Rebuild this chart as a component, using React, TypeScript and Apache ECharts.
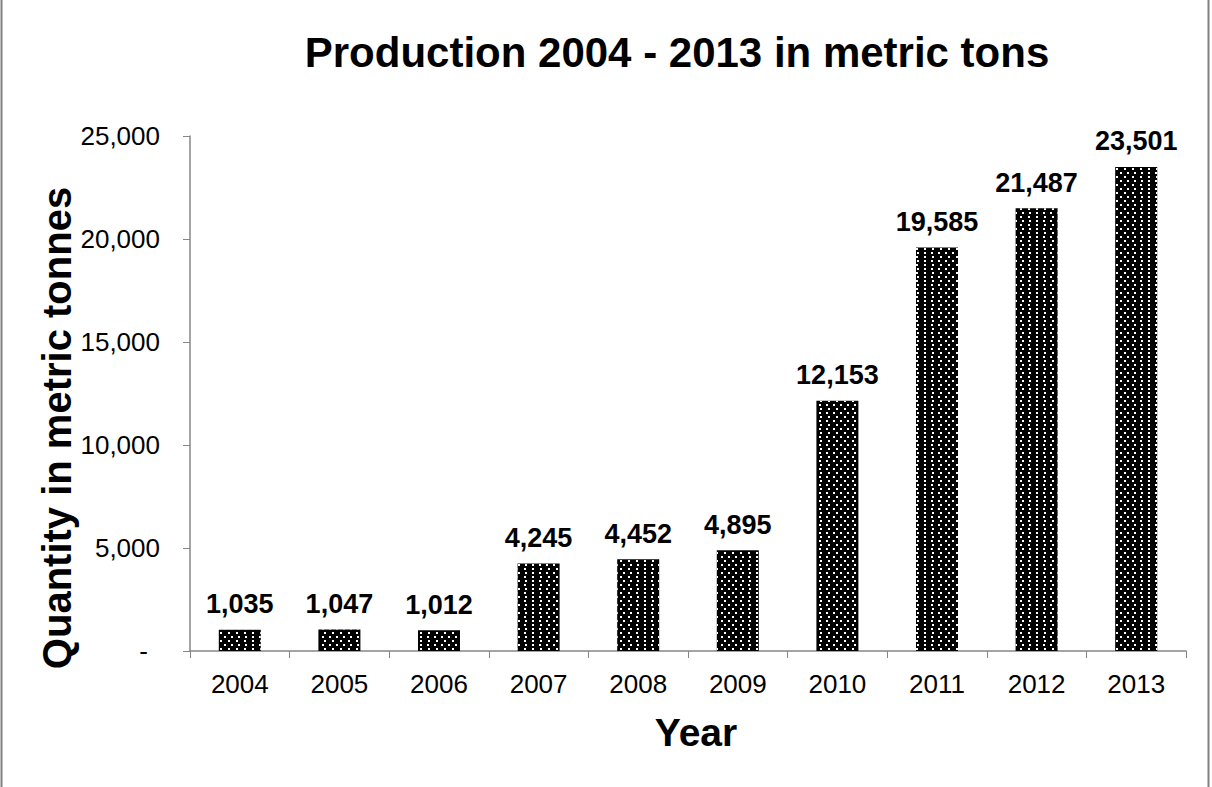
import React, { useEffect, useRef } from "react";
import * as echarts from "echarts";

const years = ["2004", "2005", "2006", "2007", "2008", "2009", "2010", "2011", "2012", "2013"];
const production = [1035, 1047, 1012, 4245, 4452, 4895, 12153, 19585, 21487, 23501];
const titleText = "Production 2004 - 2013 in metric tons";
const yAxisName = "Quantity in metric tonnes";
const xAxisName = "Year";

const fmt = (v: number) => v.toLocaleString("en-US");

export default function App() {
  const ref = useRef<HTMLDivElement>(null);
  useEffect(() => {
    if (!ref.current) return;
    const chart = echarts.init(ref.current, null, { renderer: "svg" });
    const font = "Liberation Sans, Arial, sans-serif";
    chart.setOption({
      animation: false,
      backgroundColor: "#ffffff",
      aria: { enabled: true, decal: { show: true } },
      graphic: [
        {
          type: "text",
          x: 677,
          y: 52,
          style: {
            text: titleText,
            font: `bold 42px ${font}`,
            fill: "#000",
            textAlign: "center",
            textVerticalAlign: "middle",
          },
        },
        {
          type: "text",
          x: 57,
          y: 428,
          rotation: Math.PI / 2,
          style: {
            text: yAxisName,
            font: `bold 40px ${font}`,
            fill: "#000",
            textAlign: "center",
            textVerticalAlign: "middle",
          },
        },
        {
          type: "text",
          x: 696,
          y: 732,
          style: {
            text: xAxisName,
            font: `bold 39px ${font}`,
            fill: "#000",
            textAlign: "center",
            textVerticalAlign: "middle",
          },
        },
        { type: "line", shape: { x1: 1.5, y1: 0, x2: 1.5, y2: 787 }, style: { stroke: "#808080", lineWidth: 2 } },
        { type: "line", shape: { x1: 1208.5, y1: 0, x2: 1208.5, y2: 787 }, style: { stroke: "#808080", lineWidth: 2 } },
      ],
      grid: { left: 190, right: 26, top: 136, bottom: 136, containLabel: false },
      xAxis: {
        type: "category",
        data: years,
        axisLine: { lineStyle: { color: "#868686", width: 1.5 } },
        axisTick: { show: true, length: 7, alignWithLabel: false, lineStyle: { color: "#868686" } },
        axisLabel: { fontFamily: font, fontSize: 26, color: "#000", margin: 20 },
      },
      yAxis: {
        type: "value",
        min: 0,
        max: 25000,
        interval: 5000,
        axisLine: { show: true, lineStyle: { color: "#868686", width: 1.5 } },
        axisTick: { show: true, length: 7, lineStyle: { color: "#868686" } },
        splitLine: { show: false },
        axisLabel: {
          fontFamily: font,
          fontSize: 26,
          color: "#000",
          margin: 30,
          formatter: (v: number) => (v === 0 ? "{d|-}" : fmt(v)),
          rich: { d: { fontFamily: font, fontSize: 26, color: "#000", padding: [0, 12, 0, 0] } },
        },
      },
      series: [
        {
          type: "bar",
          data: production,
          barWidth: 42,
          itemStyle: {
            color: "#000",
            decal: {
              symbol: "rect",
              symbolSize: 1,
              color: "#ffffff",
              backgroundColor: "#000000",
              dashArrayX: [[2, 5], [0, 3.5, 2, 1.5]],
              dashArrayY: [2, 2],
              rotation: 0,
            },
          },
          label: {
            show: true,
            position: "top",
            distance: 12,
            fontFamily: font,
            fontWeight: "bold",
            fontSize: 27,
            color: "#000",
            formatter: (p: any) => fmt(p.value),
          },
        },
      ],
    });
    return () => chart.dispose();
  }, []);
  return (
    <div
      ref={ref}
      style={{ position: "fixed", left: 0, top: 0, width: 1212, height: 787, background: "#fff" }}
    />
  );
}
